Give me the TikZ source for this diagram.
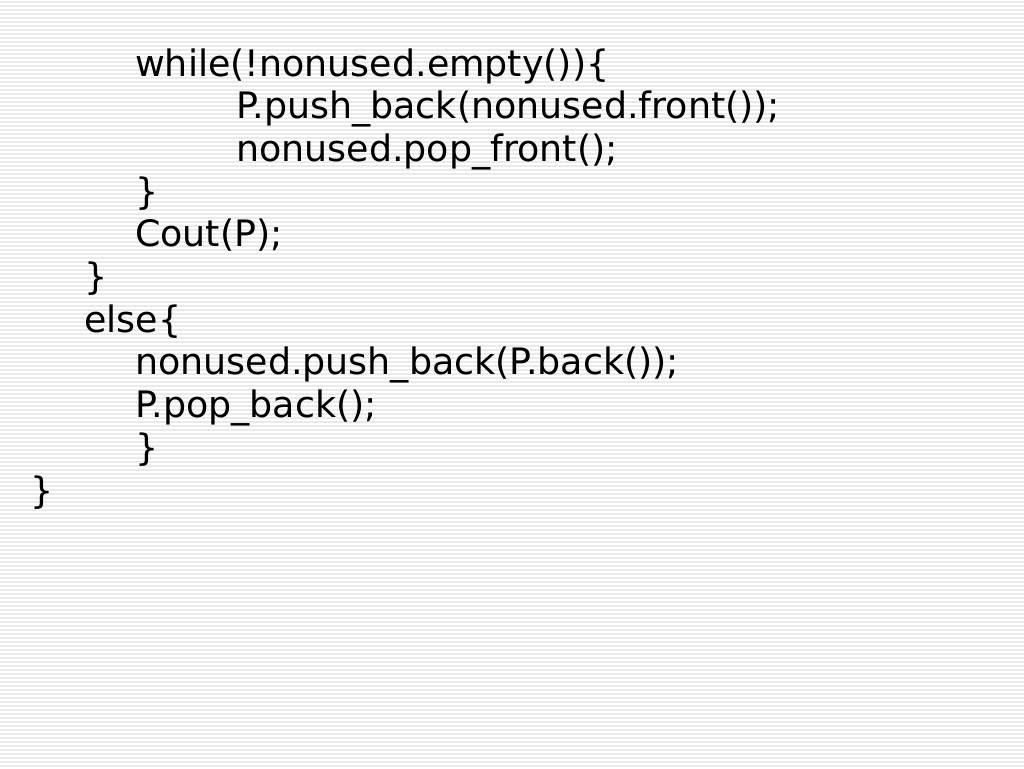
\documentclass[tikz,border=0pt]{standalone}
\usepackage{fontspec}
\setmainfont{DejaVu Sans}
\definecolor{ruled}{RGB}{234,234,234}
\begin{document}
\begin{tikzpicture}[x=1pt,y=-1pt,
	code/.style={anchor=base west,inner sep=0pt,font=\fontsize{36.4}{43}\selectfont}]
	\useasboundingbox (0,0) rectangle (1024,768);
	\fill[white] (0,0) rectangle (1024,768);
	\foreach \y in {2,6,...,766}
		\draw[ruled,line width=1.4pt] (0,\y) -- (1024,\y);
	\node[code] (l1) at (135,76) {while(!nonused.empty())\{};
	\node[code] (l2) at (236,118.7) {P.push\_back(nonused.front());};
	\node[code] (l3) at (236,161.4) {nonused.pop\_front();};
	\node[code] (l4) at (135,204.1) {\}};
	\node[code] (l5) at (135,246.8) {Cout(P);};
	\node[code] (l6) at (84,289.5) {\}};
	\node[code] (l7) at (84,332.2) {else\{};
	\node[code] (l8) at (135,374.9) {nonused.push\_back(P.back());};
	\node[code] (l9) at (135,417.6) {P.pop\_back();};
	\node[code] (l10) at (135,460.3) {\}};
	\node[code] (l11) at (30,503) {\}};
\end{tikzpicture}
\end{document}
